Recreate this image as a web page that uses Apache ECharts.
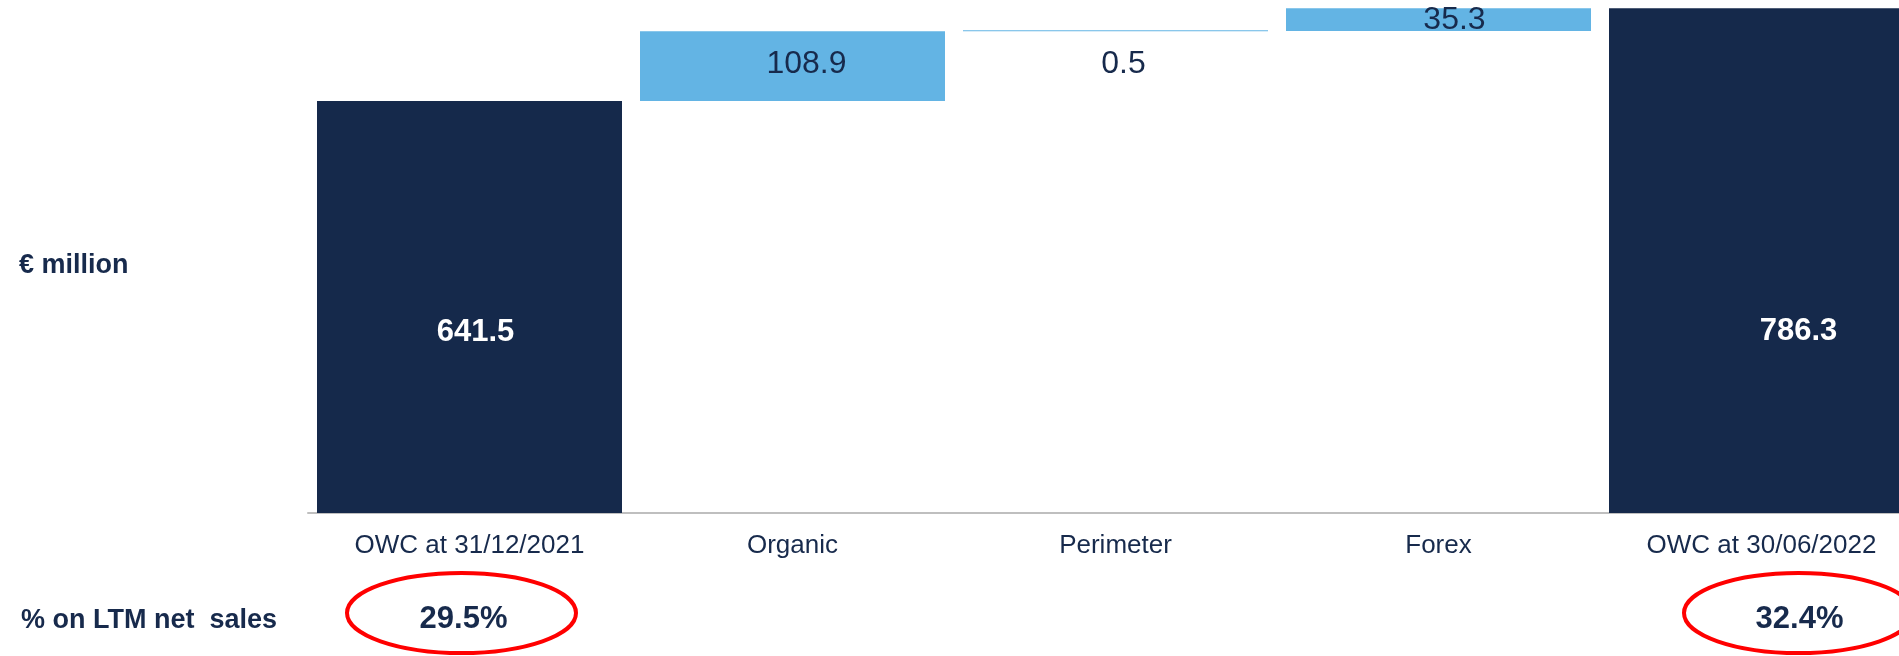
<!DOCTYPE html>
<html>
<head>
<meta charset="utf-8">
<script src="https://cdn.jsdelivr.net/npm/echarts@6/dist/echarts.min.js"></script>
<style>
    html, body { margin: 0; padding: 0; background: #ffffff; }
    #chart { width: 1899px; height: 656px; }
</style>
</head>
<body>
<div id="chart"></div>
<script>
// --- Datos ---
const categories = ['OWC at 31/12/2021', 'Organic', 'Perimeter', 'Forex', 'OWC at 30/06/2022'];
const values = [641.5, 108.9, 0.5, 35.3, 786.3];
const isTotal = [true, false, false, false, true];
const ltmPct = ['29.5%', '', '', '', '32.4%'];

// --- Colores / fuentes ---
const navy = '#15294b';
const lightBlue = '#63b4e4';
const textColor = '#172a4c';
const fontFamily = "'Liberation Sans', Arial, sans-serif";

// desplazamiento de etiquetas (como en la diapositiva original)
const labelShift = [[6, 25], [14, -2], [8, 33], [16, 1], [37, 71]];

// base invisible del waterfall (acumulado)
const base = [];
let running = 0;
values.forEach((v, i) => {
    if (isTotal[i]) { base.push(0); running = v; }
    else { base.push(running); running += v; }
});

const chart = echarts.init(document.getElementById('chart'));

chart.setOption({
    animation: false,
    backgroundColor: '#ffffff',
    grid: { left: 308, top: 0, width: 1615, height: 513, outerBoundsMode: 'none' },
    xAxis: {
        type: 'category',
        data: categories,
        axisLine: { lineStyle: { color: '#bfbfbf', width: 2 } },
        axisTick: { show: false },
        axisLabel: { color: textColor, fontSize: 26, fontFamily: fontFamily, margin: 20, interval: 0 }
    },
    yAxis: { type: 'value', min: 0, max: 799, show: false, splitLine: { show: false } },
    series: [
        {
            // soporte invisible
            type: 'bar',
            stack: 'wf',
            barWidth: 305,
            silent: true,
            itemStyle: { color: 'transparent' },
            data: base
        },
        {
            type: 'bar',
            stack: 'wf',
            barWidth: 305,
            barMinHeight: 1,
            data: values.map((v, i) => ({
                value: v,
                itemStyle: { color: isTotal[i] ? navy : lightBlue },
                label: {
                    show: true,
                    position: 'inside',
                    offset: labelShift[i],
                    formatter: v.toFixed(1),
                    fontFamily: fontFamily,
                    fontSize: isTotal[i] ? 31 : 32,
                    fontWeight: isTotal[i] ? 'bold' : 'normal',
                    color: isTotal[i] ? '#ffffff' : textColor
                }
            }))
        }
    ]
});

// --- Anotaciones: textos a la izquierda y % sobre ventas LTM ---
const pctShift = [-6, 0, 0, 0, 38];
const ringShift = [-8, 0, 0, 0, 37];
const graphics = [
    {
        type: 'text', left: 19, top: 252,
        style: { text: '€ million', font: 'bold 27px ' + fontFamily, fill: textColor }
    },
    {
        type: 'text', left: 21, top: 607,
        style: { text: '% on LTM net  sales', font: 'bold 27px ' + fontFamily, fill: textColor }
    }
];
ltmPct.forEach((p, i) => {
    if (!p) return;
    const cx = chart.convertToPixel({ xAxisIndex: 0 }, i);
    graphics.push({
        type: 'ellipse',
        shape: { cx: cx + ringShift[i], cy: 613, rx: 114.5, ry: 40 },
        style: { fill: 'none', stroke: '#ff0000', lineWidth: 4 }
    });
    graphics.push({
        type: 'text',
        x: cx + pctShift[i], y: 619,
        style: {
            text: p, font: 'bold 31px ' + fontFamily, fill: textColor,
            align: 'center', verticalAlign: 'middle'
        }
    });
});
chart.setOption({ graphic: graphics });
</script>
</body>
</html>
